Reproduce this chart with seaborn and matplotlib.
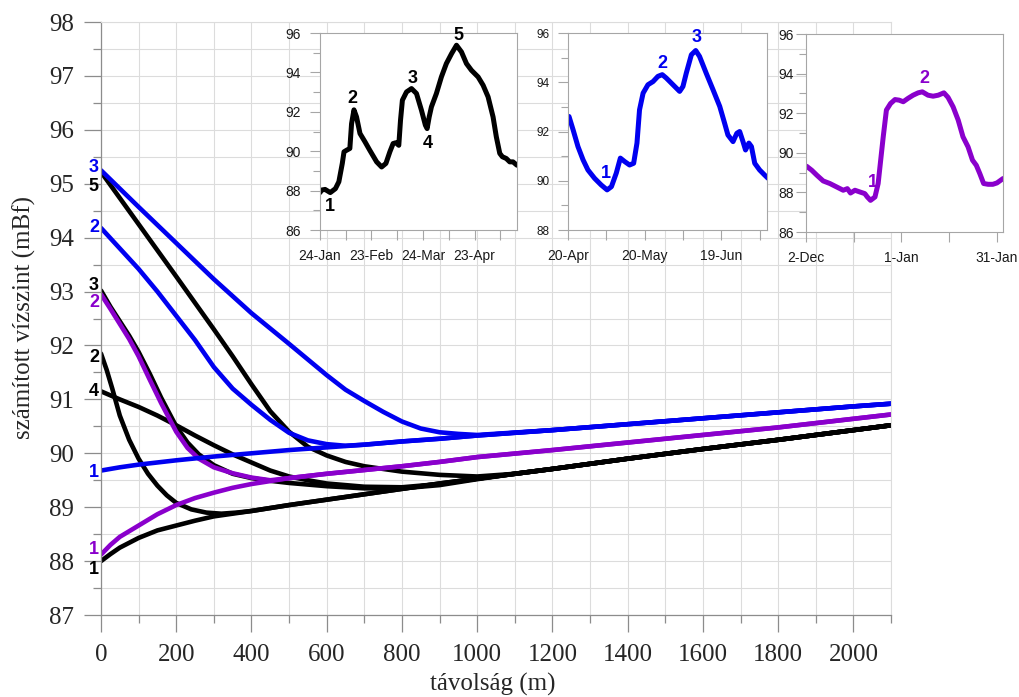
import matplotlib
matplotlib.use("Agg")
import matplotlib.pyplot as plt
from matplotlib.ticker import MultipleLocator, FixedLocator, NullFormatter
import pandas as pd
import seaborn as sns

# ---------------------------------------------------------------
# Main chart: computed water level along the section (distance, m)
# Curves of one colour end on a shared tail line.
# ---------------------------------------------------------------
BLACK, PURPLE, BLUE = "#000000", "#8a00cc", "#0000f0"

black_tail_x = [0, 25, 50, 100, 150, 200, 250, 300, 350, 400, 500, 600, 700, 800,
                900, 1000, 1100, 1200, 1400, 1600, 1800, 2000, 2100]
black_tail_y = [88.0, 88.13, 88.25, 88.43, 88.57, 88.66, 88.75, 88.83, 88.88, 88.93,
                89.04, 89.14, 89.24, 89.34, 89.44, 89.53, 89.62, 89.71, 89.90, 90.08,
                90.25, 90.43, 90.52]

black2_x = [0, 15, 30, 50, 75, 100, 125, 150, 175, 200, 240, 280, 320, 360]
black2_y = [91.85, 91.55, 91.2, 90.7, 90.25, 89.9, 89.62, 89.4, 89.22, 89.08, 88.96,
            88.9, 88.88, 88.9]

black3_x = [0, 25, 50, 75, 100, 130, 160, 200, 230, 260, 300, 350, 400, 450, 500,
            600, 700, 800, 900, 1000]
black3_y = [93.02, 92.72, 92.45, 92.18, 91.88, 91.47, 91.03, 90.5, 90.2, 89.98, 89.78,
            89.62, 89.54, 89.49, 89.45, 89.39, 89.35, 89.35, 89.41, 89.52]

black4_x = [0, 50, 100, 150, 200, 250, 300, 350, 400, 450, 500, 550, 600, 700, 800,
            900, 1000]
black4_y = [91.15, 91.0, 90.86, 90.7, 90.52, 90.33, 90.15, 89.98, 89.83, 89.68, 89.57,
            89.5, 89.44, 89.38, 89.37, 89.43, 89.53]

black5_x = [0, 100, 200, 300, 350, 400, 450, 500, 550, 600, 650, 700, 800, 900, 1000]
black5_y = [95.22, 94.25, 93.28, 92.3, 91.8, 91.28, 90.78, 90.4, 90.12, 89.96, 89.84,
            89.76, 89.66, 89.6, 89.57]

purple_tail_x = [0, 25, 50, 100, 150, 200, 250, 300, 350, 400, 500, 600, 700, 800,
                 900, 1000, 1200, 1400, 1600, 1800, 2000, 2100]
purple_tail_y = [88.12, 88.3, 88.45, 88.66, 88.87, 89.04, 89.17, 89.27, 89.36, 89.43,
                 89.54, 89.62, 89.69, 89.76, 89.84, 89.93, 90.06, 90.2, 90.34, 90.48,
                 90.64, 90.72]

purple2_x = [0, 25, 50, 75, 100, 130, 160, 200, 230, 260, 300, 350, 400, 450]
purple2_y = [92.95, 92.68, 92.4, 92.12, 91.8, 91.36, 90.93, 90.4, 90.1, 89.9, 89.74,
             89.63, 89.55, 89.5]

blue_tail_x = [0, 50, 100, 200, 300, 400, 500, 600, 700, 800, 900, 1000, 1200, 1400,
               1600, 1800, 2000, 2100]
blue_tail_y = [89.68, 89.74, 89.79, 89.87, 89.94, 90.0, 90.06, 90.11, 90.16, 90.22,
               90.27, 90.33, 90.43, 90.54, 90.65, 90.76, 90.87, 90.92]

blue2_x = [0, 50, 100, 150, 200, 250, 300, 350, 400, 450, 500, 550, 600, 650]
blue2_y = [94.18, 93.8, 93.42, 93.0, 92.55, 92.1, 91.6, 91.2, 90.9, 90.62, 90.38,
           90.24, 90.17, 90.14]

blue3_x = [0, 100, 200, 300, 400, 500, 550, 600, 650, 700, 750, 800, 850, 900, 950, 1000]
blue3_y = [95.25, 94.57, 93.9, 93.23, 92.6, 92.03, 91.74, 91.45, 91.18, 90.97, 90.77,
           90.59, 90.46, 90.39, 90.36, 90.34]

# curve id -> (colour, head x, head y, tail x, tail y, label, label level)
curves = {
    "b1": (BLACK, [], [], black_tail_x, black_tail_y, "1", 87.85),
    "b2": (BLACK, black2_x, black2_y, black_tail_x, black_tail_y, "2", 91.77),
    "b3": (BLACK, black3_x, black3_y, black_tail_x, black_tail_y, "3", 93.12),
    "b4": (BLACK, black4_x, black4_y, black_tail_x, black_tail_y, "4", 91.14),
    "b5": (BLACK, black5_x, black5_y, black_tail_x, black_tail_y, "5", 94.94),
    "p1": (PURPLE, [], [], purple_tail_x, purple_tail_y, "1", 88.22),
    "p2": (PURPLE, purple2_x, purple2_y, purple_tail_x, purple_tail_y, "2", 92.79),
    "k1": (BLUE, [], [], blue_tail_x, blue_tail_y, "1", 89.65),
    "k2": (BLUE, blue2_x, blue2_y, blue_tail_x, blue_tail_y, "2", 94.18),
    "k3": (BLUE, blue3_x, blue3_y, blue_tail_x, blue_tail_y, "3", 95.31),
}

rows = []
for cid, (col, hx, hy, tx, ty, _, _) in curves.items():
    last = hx[-1] if hx else -1
    xs = list(hx) + [x for x in tx if x > last]
    ys = list(hy) + [y for x, y in zip(tx, ty) if x > last]
    for x, y in zip(xs, ys):
        rows.append({"tavolsag": x, "vizszint": y, "gorbe": cid})
df = pd.DataFrame(rows)

# ---------------------------------------------------------------
# Inset hydrographs (day offset from the first labelled date)
# ---------------------------------------------------------------
days1 = [0, 1, 3, 6, 9, 11, 13, 14, 15.5, 17.4, 18.4, 19.8, 21.3, 23.3, 26.2, 29, 33,
         35.9, 38.4, 40.7, 42.6, 44.2, 45.9, 46.9, 48, 50.4, 53.3, 56.2, 59.1, 61.4,
         62.4, 63.6, 64.9, 67.8, 70.7, 73.6, 76.6, 79.5, 82.4, 85.3, 88.2, 92.1, 95,
         97.9, 100.8, 102.7, 104.7, 106.2, 108.5, 110.5, 112.4, 114.7]
level1 = [87.9, 88.03, 88.06, 87.9, 88.1, 88.45, 89.38, 89.97, 90.05, 90.14, 91.4, 92.1,
          91.74, 90.9, 90.48, 90.05, 89.46, 89.2, 89.38, 89.97, 90.39, 90.43, 90.3,
          91.57, 92.59, 93.01, 93.18, 92.93, 92.08, 91.32, 91.15, 91.74, 92.25, 92.93,
          93.77, 94.45, 94.95, 95.38, 95.04, 94.45, 94.11, 93.77, 93.35, 92.76, 91.74,
          90.73, 89.89, 89.72, 89.63, 89.46, 89.46, 89.29]
ticks1 = ["24-Jan", "23-Feb", "24-Mar", "23-Apr"]
marks1 = [("1", 5.8, 87.18), ("2", 19, 92.67), ("3", 53.9, 93.69),
          ("4", 63, 90.39), ("5", 80.4, 95.88)]

days2 = [0.4, 2, 3.9, 5.9, 7.8, 10.4, 13, 15.3, 17, 18.9, 20.5, 22.2, 24.1, 25.7, 27,
         28, 29.4, 31.3, 33.3, 35.2, 36.9, 38.5, 41.1, 43.7, 45, 46.3, 48.3, 50, 51.5,
         54.1, 56.8, 59.4, 61.3, 62.6, 64.6, 66.1, 67.2, 68.5, 69.5, 70.8, 71.8, 73.1,
         75, 76.9, 78.3]
level2 = [92.61, 92.07, 91.39, 90.85, 90.44, 90.1, 89.83, 89.63, 89.76, 90.31, 90.92,
          90.78, 90.64, 90.71, 91.53, 92.88, 93.56, 93.9, 94.03, 94.24, 94.31, 94.17,
          93.9, 93.63, 93.83, 94.37, 95.12, 95.29, 95.05, 94.37, 93.69, 93.02, 92.34,
          91.86, 91.59, 91.93, 92.0, 91.59, 91.25, 91.53, 91.39, 90.71, 90.44, 90.24,
          90.1]
ticks2 = ["20-Apr", "20-May", "19-Jun"]
marks2 = [("1", 15, 90.31), ("2", 36.9, 94.78), ("3", 50.2, 95.8)]

days3 = [0.2, 1.8, 3.4, 5.4, 7.5, 9.6, 11.7, 13, 14, 15.4, 17, 18.5, 19.3, 20.3, 21.7,
         22.7, 23.5, 24.3, 25.3, 26.6, 28, 29.3, 30.6, 32.1, 33.7, 35.3, 36.6, 38.4, 40,
         41.6, 43.4, 44.7, 46.3, 47.9, 49.4, 51, 52.4, 53.6, 54.7, 55.9, 57.3, 58.8,
         60.1, 62]
level3 = [89.32, 89.12, 88.87, 88.58, 88.45, 88.28, 88.11, 88.19, 87.97, 88.11, 88.02,
          87.94, 87.77, 87.6, 87.77, 88.45, 89.63, 90.81, 92.16, 92.49, 92.69, 92.66,
          92.58, 92.75, 92.91, 93.03, 93.08, 92.91, 92.86, 92.91, 93.03, 92.8, 92.32,
          91.65, 90.81, 90.3, 89.63, 89.37, 88.95, 88.45, 88.41, 88.41, 88.48, 88.7]
ticks3 = ["2-Dec", "1-Jan", "31-Jan"]
marks3 = [("1", 20.9, 88.48), ("2", 37.1, 93.76)]

# ---------------------------------------------------------------
sns.set_style("white")
plt.rcParams["font.family"] = ["Liberation Serif", "DejaVu Serif"]

fig = plt.figure(figsize=(10.19, 6.97), dpi=100)
ax = fig.add_axes([0.0991, 0.1176, 0.7753, 0.8508])

order = ["b1", "b2", "b3", "b4", "b5", "p1", "p2", "k1", "k2", "k3"]
palette = {cid: curves[cid][0] for cid in order}
sns.lineplot(data=df, x="tavolsag", y="vizszint", hue="gorbe", hue_order=order,
             palette=palette, estimator=None, sort=False, legend=False,
             linewidth=3.3, ax=ax)
for ln in ax.lines:
    ln.set_solid_capstyle("round")
    ln.set_solid_joinstyle("round")

ax.set_xlim(0, 2100)
ax.set_ylim(87, 98)
ax.xaxis.set_major_locator(MultipleLocator(200))
ax.xaxis.set_minor_locator(MultipleLocator(100))
ax.yaxis.set_major_locator(MultipleLocator(1))
ax.yaxis.set_minor_locator(MultipleLocator(0.5))
ax.grid(which="both", color="#dcdcdc", linewidth=0.8)
ax.set_axisbelow(True)
ax.tick_params(which="both", bottom=True, left=True, direction="out",
               color="#8c8c8c", width=0.9)
ax.tick_params(which="major", length=12.5, labelsize=18,
               labelfontfamily="Liberation Serif")
ax.tick_params(which="minor", length=6)
ax.tick_params(axis="x", which="major", pad=8)
ax.tick_params(axis="y", which="major", pad=7)
for side in ("left", "bottom"):
    ax.spines[side].set_color("#8c8c8c")
    ax.spines[side].set_linewidth(0.9)
for side in ("top", "right"):
    ax.spines[side].set_color("#dcdcdc")
    ax.spines[side].set_linewidth(0.8)

ax.set_xlabel("távolság (m)", fontsize=18)
ax.xaxis.set_label_coords(0.496, -0.1164)
ax.xaxis.label.set_va("center")
ax.set_ylabel("számított vízszint (mBf)", fontsize=18)
ax.yaxis.set_label_coords(-0.0975, 0.5025)
ax.yaxis.label.set_va("center")

for cid in order:
    col, _, _, _, _, txt, ylev = curves[cid]
    ax.annotate(txt, xy=(0, ylev), xytext=(-1.5, 0), textcoords="offset points",
                ha="right", va="center", color=col, fontsize=13,
                fontweight="bold", family="Liberation Sans", annotation_clip=False)


def hydrograph(rect, days, levels, colour, xmax, ylim, labels, marks, ysize, ypad):
    a = fig.add_axes(rect)
    a.set_facecolor("white")
    sns.lineplot(x=days, y=levels, color=colour, linewidth=3.6, ax=a,
                 estimator=None, sort=False)
    for ln in a.lines:
        ln.set_solid_capstyle("round")
        ln.set_solid_joinstyle("round")
    a.set_xlim(0, xmax)
    a.set_ylim(*ylim)
    a.grid(False)
    a.xaxis.set_major_locator(FixedLocator([30 * i for i in range(len(labels))]))
    a.xaxis.set_minor_locator(FixedLocator([15 + 30 * i for i in range(len(labels))
                                            if 15 + 30 * i <= xmax]))
    a.xaxis.set_major_formatter(plt.FixedFormatter(labels))
    a.xaxis.set_minor_formatter(NullFormatter())
    a.yaxis.set_major_locator(MultipleLocator(2))
    a.yaxis.set_minor_locator(MultipleLocator(1))
    a.tick_params(which="both", bottom=True, left=True, direction="out",
                  color="#a6a6a6", width=0.8, labelcolor="#1a1a1a",
                  labelfontfamily="Liberation Sans")
    a.tick_params(axis="x", which="both", length=7, labelsize=10, pad=6.5)
    a.tick_params(axis="y", which="major", length=7.5, labelsize=ysize, pad=ypad)
    a.tick_params(axis="y", which="minor", length=5)
    for s in a.spines.values():
        s.set_color("#a6a6a6")
        s.set_linewidth(0.8)
    a.set_xlabel("")
    a.set_ylabel("")
    for txt, d, lev in marks:
        a.text(d, lev, txt, color=colour, fontsize=13, fontweight="bold",
               family="Liberation Sans", ha="center", va="center", clip_on=False)
    return a


hydrograph([0.3140, 0.6700, 0.1933, 0.2826], days1, level1, BLACK, 114.7, (86, 96),
           ticks1, marks1, 10, 6)
hydrograph([0.5574, 0.6700, 0.1953, 0.2826], days2, level2, BLUE, 77.9, (88, 96),
           ticks2, marks2, 8.5, 6)
hydrograph([0.7910, 0.6671, 0.1933, 0.2841], days3, level3, PURPLE, 62, (86, 96),
           ticks3, marks3, 10, 1.5)

fig.savefig("out.png", dpi=100)
